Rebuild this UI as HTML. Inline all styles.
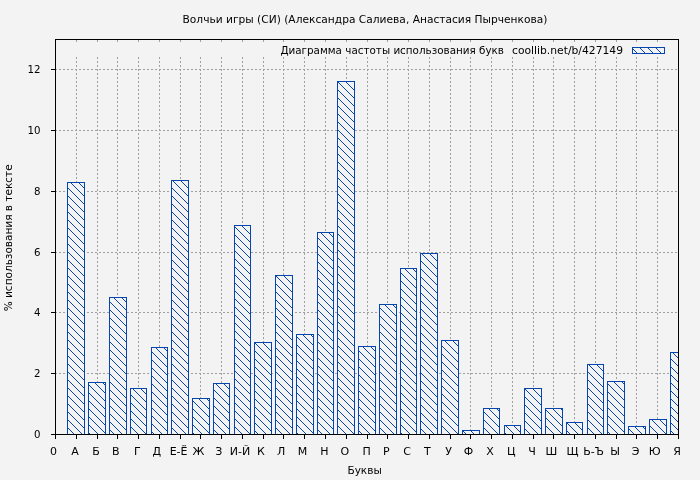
<!DOCTYPE html>
<html lang="ru"><head><meta charset="utf-8"><title>Волчьи игры (СИ) — диаграмма частоты использования букв</title>
<style>html,body{margin:0;padding:0;background:#f3f3f3}body{width:700px;height:480px;overflow:hidden}svg{display:block}text{font-family:"DejaVu Sans", "Liberation Sans", sans-serif;font-size:11px;fill:#000}</style>
</head><body>
<svg width="700" height="480" viewBox="0 0 700 480">
<defs><pattern id="h" x="0" y="0" width="8" height="8" patternUnits="userSpaceOnUse">
<path d="M0 0h1v1h-1zM1 1h1v1h-1zM2 2h1v1h-1zM3 3h1v1h-1zM4 4h1v1h-1zM5 5h1v1h-1zM6 6h1v1h-1zM7 7h1v1h-1z" fill="#0645ad" shape-rendering="crispEdges"/>
</pattern></defs>
<rect width="700" height="480" fill="#f3f3f3"/>
<g stroke="#a0a0a0" stroke-width="1" stroke-dasharray="2 2" shape-rendering="crispEdges" fill="none">
<line x1="55" y1="373.5" x2="678" y2="373.5"/>
<line x1="55" y1="312.5" x2="678" y2="312.5"/>
<line x1="55" y1="252.5" x2="678" y2="252.5"/>
<line x1="55" y1="191.5" x2="678" y2="191.5"/>
<line x1="55" y1="130.5" x2="678" y2="130.5"/>
<line x1="55" y1="69.5" x2="678" y2="69.5"/>
<line x1="76.5" y1="435" x2="76.5" y2="57"/>
<line x1="76.5" y1="40" x2="76.5" y2="42"/>
<line x1="97.5" y1="435" x2="97.5" y2="57"/>
<line x1="97.5" y1="40" x2="97.5" y2="42"/>
<line x1="117.5" y1="435" x2="117.5" y2="57"/>
<line x1="117.5" y1="40" x2="117.5" y2="42"/>
<line x1="138.5" y1="435" x2="138.5" y2="57"/>
<line x1="138.5" y1="40" x2="138.5" y2="42"/>
<line x1="159.5" y1="435" x2="159.5" y2="57"/>
<line x1="159.5" y1="40" x2="159.5" y2="42"/>
<line x1="180.5" y1="435" x2="180.5" y2="57"/>
<line x1="180.5" y1="40" x2="180.5" y2="42"/>
<line x1="200.5" y1="435" x2="200.5" y2="57"/>
<line x1="200.5" y1="40" x2="200.5" y2="42"/>
<line x1="221.5" y1="435" x2="221.5" y2="57"/>
<line x1="221.5" y1="40" x2="221.5" y2="42"/>
<line x1="242.5" y1="435" x2="242.5" y2="57"/>
<line x1="242.5" y1="40" x2="242.5" y2="42"/>
<line x1="263.5" y1="435" x2="263.5" y2="57"/>
<line x1="263.5" y1="40" x2="263.5" y2="42"/>
<line x1="283.5" y1="435" x2="283.5" y2="57"/>
<line x1="283.5" y1="40" x2="283.5" y2="42"/>
<line x1="304.5" y1="435" x2="304.5" y2="57"/>
<line x1="304.5" y1="40" x2="304.5" y2="42"/>
<line x1="325.5" y1="435" x2="325.5" y2="57"/>
<line x1="325.5" y1="40" x2="325.5" y2="42"/>
<line x1="346.5" y1="435" x2="346.5" y2="57"/>
<line x1="346.5" y1="40" x2="346.5" y2="42"/>
<line x1="367.5" y1="435" x2="367.5" y2="57"/>
<line x1="367.5" y1="40" x2="367.5" y2="42"/>
<line x1="387.5" y1="435" x2="387.5" y2="57"/>
<line x1="387.5" y1="40" x2="387.5" y2="42"/>
<line x1="408.5" y1="435" x2="408.5" y2="57"/>
<line x1="408.5" y1="40" x2="408.5" y2="42"/>
<line x1="429.5" y1="435" x2="429.5" y2="57"/>
<line x1="429.5" y1="40" x2="429.5" y2="42"/>
<line x1="450.5" y1="435" x2="450.5" y2="57"/>
<line x1="450.5" y1="40" x2="450.5" y2="42"/>
<line x1="470.5" y1="435" x2="470.5" y2="57"/>
<line x1="470.5" y1="40" x2="470.5" y2="42"/>
<line x1="491.5" y1="435" x2="491.5" y2="57"/>
<line x1="491.5" y1="40" x2="491.5" y2="42"/>
<line x1="512.5" y1="435" x2="512.5" y2="57"/>
<line x1="512.5" y1="40" x2="512.5" y2="42"/>
<line x1="533.5" y1="435" x2="533.5" y2="57"/>
<line x1="533.5" y1="40" x2="533.5" y2="42"/>
<line x1="553.5" y1="435" x2="553.5" y2="57"/>
<line x1="553.5" y1="40" x2="553.5" y2="42"/>
<line x1="574.5" y1="435" x2="574.5" y2="57"/>
<line x1="574.5" y1="40" x2="574.5" y2="42"/>
<line x1="595.5" y1="435" x2="595.5" y2="57"/>
<line x1="595.5" y1="40" x2="595.5" y2="42"/>
<line x1="616.5" y1="435" x2="616.5" y2="57"/>
<line x1="616.5" y1="40" x2="616.5" y2="42"/>
<line x1="636.5" y1="435" x2="636.5" y2="57"/>
<line x1="636.5" y1="40" x2="636.5" y2="42"/>
<line x1="657.5" y1="435" x2="657.5" y2="57"/>
<line x1="657.5" y1="40" x2="657.5" y2="42"/>
</g>
<g stroke="#0645ad" stroke-width="1" shape-rendering="crispEdges">
<rect x="67.5" y="182.5" width="17" height="252" fill="#f3f3f3"/>
<rect x="67.5" y="182.5" width="17" height="252" fill="url(#h)"/>
<rect x="88.5" y="382.5" width="17" height="52" fill="#f3f3f3"/>
<rect x="88.5" y="382.5" width="17" height="52" fill="url(#h)"/>
<rect x="109.5" y="297.5" width="17" height="137" fill="#f3f3f3"/>
<rect x="109.5" y="297.5" width="17" height="137" fill="url(#h)"/>
<rect x="130.5" y="388.5" width="16" height="46" fill="#f3f3f3"/>
<rect x="130.5" y="388.5" width="16" height="46" fill="url(#h)"/>
<rect x="151.5" y="347.5" width="16" height="87" fill="#f3f3f3"/>
<rect x="151.5" y="347.5" width="16" height="87" fill="url(#h)"/>
<rect x="171.5" y="180.5" width="17" height="254" fill="#f3f3f3"/>
<rect x="171.5" y="180.5" width="17" height="254" fill="url(#h)"/>
<rect x="192.5" y="398.5" width="17" height="36" fill="#f3f3f3"/>
<rect x="192.5" y="398.5" width="17" height="36" fill="url(#h)"/>
<rect x="213.5" y="383.5" width="16" height="51" fill="#f3f3f3"/>
<rect x="213.5" y="383.5" width="16" height="51" fill="url(#h)"/>
<rect x="234.5" y="225.5" width="16" height="209" fill="#f3f3f3"/>
<rect x="234.5" y="225.5" width="16" height="209" fill="url(#h)"/>
<rect x="254.5" y="342.5" width="17" height="92" fill="#f3f3f3"/>
<rect x="254.5" y="342.5" width="17" height="92" fill="url(#h)"/>
<rect x="275.5" y="275.5" width="17" height="159" fill="#f3f3f3"/>
<rect x="275.5" y="275.5" width="17" height="159" fill="url(#h)"/>
<rect x="296.5" y="334.5" width="17" height="100" fill="#f3f3f3"/>
<rect x="296.5" y="334.5" width="17" height="100" fill="url(#h)"/>
<rect x="317.5" y="232.5" width="16" height="202" fill="#f3f3f3"/>
<rect x="317.5" y="232.5" width="16" height="202" fill="url(#h)"/>
<rect x="337.5" y="81.5" width="17" height="353" fill="#f3f3f3"/>
<rect x="337.5" y="81.5" width="17" height="353" fill="url(#h)"/>
<rect x="358.5" y="346.5" width="17" height="88" fill="#f3f3f3"/>
<rect x="358.5" y="346.5" width="17" height="88" fill="url(#h)"/>
<rect x="379.5" y="304.5" width="17" height="130" fill="#f3f3f3"/>
<rect x="379.5" y="304.5" width="17" height="130" fill="url(#h)"/>
<rect x="400.5" y="268.5" width="16" height="166" fill="#f3f3f3"/>
<rect x="400.5" y="268.5" width="16" height="166" fill="url(#h)"/>
<rect x="420.5" y="253.5" width="17" height="181" fill="#f3f3f3"/>
<rect x="420.5" y="253.5" width="17" height="181" fill="url(#h)"/>
<rect x="441.5" y="340.5" width="17" height="94" fill="#f3f3f3"/>
<rect x="441.5" y="340.5" width="17" height="94" fill="url(#h)"/>
<rect x="462.5" y="430.5" width="17" height="4" fill="#f3f3f3"/>
<rect x="462.5" y="430.5" width="17" height="4" fill="url(#h)"/>
<rect x="483.5" y="408.5" width="16" height="26" fill="#f3f3f3"/>
<rect x="483.5" y="408.5" width="16" height="26" fill="url(#h)"/>
<rect x="504.5" y="425.5" width="16" height="9" fill="#f3f3f3"/>
<rect x="504.5" y="425.5" width="16" height="9" fill="url(#h)"/>
<rect x="524.5" y="388.5" width="17" height="46" fill="#f3f3f3"/>
<rect x="524.5" y="388.5" width="17" height="46" fill="url(#h)"/>
<rect x="545.5" y="408.5" width="17" height="26" fill="#f3f3f3"/>
<rect x="545.5" y="408.5" width="17" height="26" fill="url(#h)"/>
<rect x="566.5" y="422.5" width="16" height="12" fill="#f3f3f3"/>
<rect x="566.5" y="422.5" width="16" height="12" fill="url(#h)"/>
<rect x="587.5" y="364.5" width="16" height="70" fill="#f3f3f3"/>
<rect x="587.5" y="364.5" width="16" height="70" fill="url(#h)"/>
<rect x="607.5" y="381.5" width="17" height="53" fill="#f3f3f3"/>
<rect x="607.5" y="381.5" width="17" height="53" fill="url(#h)"/>
<rect x="628.5" y="426.5" width="17" height="8" fill="#f3f3f3"/>
<rect x="628.5" y="426.5" width="17" height="8" fill="url(#h)"/>
<rect x="649.5" y="419.5" width="17" height="15" fill="#f3f3f3"/>
<rect x="649.5" y="419.5" width="17" height="15" fill="url(#h)"/>
<rect x="670.5" y="352.5" width="8" height="82" fill="#f3f3f3"/>
<rect x="670.5" y="352.5" width="8" height="82" fill="url(#h)"/>
<rect x="632.5" y="47.5" width="32" height="6" fill="#f3f3f3"/>
<rect x="632.5" y="47.5" width="32" height="6" fill="url(#h)"/>
</g>
<g stroke="#000" stroke-width="1" shape-rendering="crispEdges" fill="none">
<rect x="55.5" y="39.5" width="623" height="395"/>
<line x1="51" y1="434.5" x2="55" y2="434.5"/>
<line x1="51" y1="373.5" x2="55" y2="373.5"/>
<line x1="51" y1="312.5" x2="55" y2="312.5"/>
<line x1="51" y1="252.5" x2="55" y2="252.5"/>
<line x1="51" y1="191.5" x2="55" y2="191.5"/>
<line x1="51" y1="130.5" x2="55" y2="130.5"/>
<line x1="51" y1="69.5" x2="55" y2="69.5"/>
<line x1="55.5" y1="435" x2="55.5" y2="439"/>
<line x1="76.5" y1="435" x2="76.5" y2="439"/>
<line x1="97.5" y1="435" x2="97.5" y2="439"/>
<line x1="117.5" y1="435" x2="117.5" y2="439"/>
<line x1="138.5" y1="435" x2="138.5" y2="439"/>
<line x1="159.5" y1="435" x2="159.5" y2="439"/>
<line x1="180.5" y1="435" x2="180.5" y2="439"/>
<line x1="200.5" y1="435" x2="200.5" y2="439"/>
<line x1="221.5" y1="435" x2="221.5" y2="439"/>
<line x1="242.5" y1="435" x2="242.5" y2="439"/>
<line x1="263.5" y1="435" x2="263.5" y2="439"/>
<line x1="283.5" y1="435" x2="283.5" y2="439"/>
<line x1="304.5" y1="435" x2="304.5" y2="439"/>
<line x1="325.5" y1="435" x2="325.5" y2="439"/>
<line x1="346.5" y1="435" x2="346.5" y2="439"/>
<line x1="367.5" y1="435" x2="367.5" y2="439"/>
<line x1="387.5" y1="435" x2="387.5" y2="439"/>
<line x1="408.5" y1="435" x2="408.5" y2="439"/>
<line x1="429.5" y1="435" x2="429.5" y2="439"/>
<line x1="450.5" y1="435" x2="450.5" y2="439"/>
<line x1="470.5" y1="435" x2="470.5" y2="439"/>
<line x1="491.5" y1="435" x2="491.5" y2="439"/>
<line x1="512.5" y1="435" x2="512.5" y2="439"/>
<line x1="533.5" y1="435" x2="533.5" y2="439"/>
<line x1="553.5" y1="435" x2="553.5" y2="439"/>
<line x1="574.5" y1="435" x2="574.5" y2="439"/>
<line x1="595.5" y1="435" x2="595.5" y2="439"/>
<line x1="616.5" y1="435" x2="616.5" y2="439"/>
<line x1="636.5" y1="435" x2="636.5" y2="439"/>
<line x1="657.5" y1="435" x2="657.5" y2="439"/>
<line x1="678.5" y1="435" x2="678.5" y2="439"/>
</g>
<text x="365" y="23" text-anchor="middle" textLength="365" lengthAdjust="spacingAndGlyphs">Волчьи игры (СИ) (Александра Салиева, Анастасия Пырченкова)</text>
<text x="280.4" y="54" textLength="223.6" lengthAdjust="spacingAndGlyphs">Диаграмма частоты использования букв</text>
<text x="512" y="54" textLength="111" lengthAdjust="spacingAndGlyphs">coollib.net/b/427149</text>
<text x="34.0" y="438" textLength="6.5" lengthAdjust="spacingAndGlyphs">0</text>
<text x="34.0" y="377" textLength="6.5" lengthAdjust="spacingAndGlyphs">2</text>
<text x="34.0" y="316" textLength="6.5" lengthAdjust="spacingAndGlyphs">4</text>
<text x="34.0" y="256" textLength="6.5" lengthAdjust="spacingAndGlyphs">6</text>
<text x="34.0" y="195" textLength="6.5" lengthAdjust="spacingAndGlyphs">8</text>
<text x="27.5" y="134" textLength="13.0" lengthAdjust="spacingAndGlyphs">10</text>
<text x="27.5" y="73" textLength="13.0" lengthAdjust="spacingAndGlyphs">12</text>
<text x="53.6" y="455" text-anchor="middle">0</text>
<text x="75.0" y="455" text-anchor="middle">А</text>
<text x="96.0" y="455" text-anchor="middle">Б</text>
<text x="115.8" y="455" text-anchor="middle">В</text>
<text x="137.3" y="455" text-anchor="middle">Г</text>
<text x="156.7" y="455" text-anchor="middle">Д</text>
<text x="178.6" y="455" text-anchor="middle">Е-Ё</text>
<text x="198.4" y="455" text-anchor="middle">Ж</text>
<text x="218.7" y="455" text-anchor="middle">З</text>
<text x="240.0" y="455" text-anchor="middle">И-Й</text>
<text x="261.0" y="455" text-anchor="middle">К</text>
<text x="281.1" y="455" text-anchor="middle">Л</text>
<text x="302.4" y="455" text-anchor="middle">М</text>
<text x="324.4" y="455" text-anchor="middle">Н</text>
<text x="344.9" y="455" text-anchor="middle">О</text>
<text x="366.6" y="455" text-anchor="middle">П</text>
<text x="386.4" y="455" text-anchor="middle">Р</text>
<text x="407.2" y="455" text-anchor="middle">С</text>
<text x="427.4" y="455" text-anchor="middle">Т</text>
<text x="448.6" y="455" text-anchor="middle">У</text>
<text x="468.4" y="455" text-anchor="middle">Ф</text>
<text x="489.9" y="455" text-anchor="middle">Х</text>
<text x="511.3" y="455" text-anchor="middle">Ц</text>
<text x="532.1" y="455" text-anchor="middle">Ч</text>
<text x="551.5" y="455" text-anchor="middle">Ш</text>
<text x="572.6" y="455" text-anchor="middle">Щ</text>
<text x="593.5" y="455" text-anchor="middle">Ь-Ъ</text>
<text x="615.0" y="455" text-anchor="middle">Ы</text>
<text x="635.5" y="455" text-anchor="middle">Э</text>
<text x="654.6" y="455" text-anchor="middle">Ю</text>
<text x="677.0" y="455" text-anchor="middle">Я</text>
<text x="347.4" y="474" textLength="34.4" lengthAdjust="spacingAndGlyphs">Буквы</text>
<text transform="translate(12 237.8) rotate(-90)" text-anchor="middle" textLength="147" lengthAdjust="spacingAndGlyphs">% использования в тексте</text>
</svg>
</body></html>
